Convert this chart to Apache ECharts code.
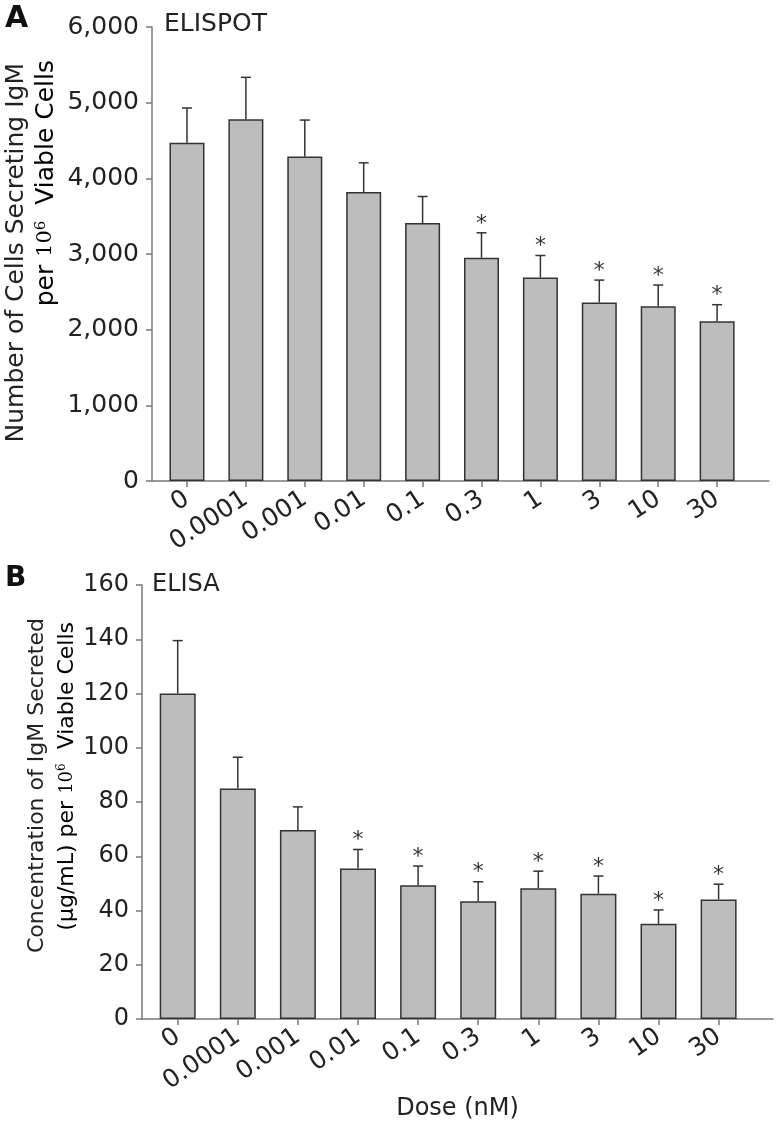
<!DOCTYPE html>
<html><head><meta charset="utf-8">
<script src="https://cdn.jsdelivr.net/npm/echarts@6/dist/echarts.min.js"></script>
<style>html,body{margin:0;padding:0;background:#fff}#c{width:777px;height:1125px}</style>
</head><body><div id="c"></div>
<script>
// ---- data ----
const doses = ['0','0.0001','0.001','0.01','0.1','0.3','1','3','10','30'];
const elispotMean = [4470, 4780, 4290, 3820, 3410, 2950, 2690, 2360, 2310, 2110];
const elispotErr  = [460, 555, 480, 385, 350, 330, 290, 295, 280, 220];
const elispotSig  = [0, 0, 0, 0, 0, 1, 1, 1, 1, 1];
const elisaMean = [120, 85, 69.7, 55.5, 49.3, 43.4, 48.2, 46.2, 35.1, 44.1];
const elisaErr  = [19.5, 11.5, 8.5, 7, 7.1, 7.2, 6.3, 6.5, 5.1, 5.6];
const elisaSig  = [0, 0, 0, 1, 1, 1, 1, 1, 1, 1];
const elispotTicks = [0, 1000, 2000, 3000, 4000, 5000, 6000];
const elisaTicks = [0, 20, 40, 60, 80, 100, 120, 140, 160];

const FONT = 'DejaVu Sans';
const AX = '#7a7a7a';
const idx = doses.map((d, i) => i);

function errRender(fs) {
  return function (params, api) {
    const x = api.value(0), m = api.value(1), e = api.value(2);
    const p0 = api.coord([x, m]), p1 = api.coord([x, m + e]);
    const ch = [
      {type: 'line', shape: {x1: p0[0], y1: p0[1], x2: p1[0], y2: p1[1]}, style: {stroke: '#333', lineWidth: 1.5}},
      {type: 'line', shape: {x1: p1[0] - 5, y1: p1[1], x2: p1[0] + 5, y2: p1[1]}, style: {stroke: '#333', lineWidth: 1.5}}
    ];
    if (api.value(3)) {
      ch.push({type: 'text', x: p1[0], y: p1[1] + 2, style: {text: '*', fontSize: fs, fontFamily: FONT, fill: '#333', align: 'center', verticalAlign: 'bottom'}});
    }
    return {type: 'group', children: ch};
  };
}

function xAxisCfg(gi, min, max, fs, rot, margin, name) {
  return {
    type: 'value', gridIndex: gi, min: min, max: max,
    splitLine: {show: false},
    axisLine: {show: true, onZero: false, lineStyle: {color: AX, width: 1.5}},
    axisTick: {show: true, length: 6, lineStyle: {color: AX, width: 1.5}, customValues: idx},
    axisLabel: {show: true, customValues: idx, rotate: rot, margin: margin, fontSize: fs, fontFamily: FONT, color: '#222',
      formatter: v => doses[Math.round(v)]},
    name: name || '', nameLocation: 'middle', nameGap: 78,
    nameTextStyle: {fontSize: 24, fontFamily: FONT, color: '#222'}
  };
}
function yAxisCfg(gi, ticks, fs) {
  return {
    type: 'value', gridIndex: gi, min: ticks[0], max: ticks[ticks.length - 1], interval: ticks[1] - ticks[0],
    splitLine: {show: false},
    axisLine: {show: true, onZero: false, lineStyle: {color: AX, width: 1.5}},
    axisTick: {show: true, length: 6, lineStyle: {color: AX, width: 1.5}},
    axisLabel: {margin: 13, fontSize: fs, fontFamily: FONT, color: '#222',
      formatter: v => v.toLocaleString('en-US')}
  };
}

const rich = (fs) => ({
  n: {fontSize: fs, fontFamily: FONT, color: '#222'},
  m: {fontSize: fs - 4, fontFamily: 'DejaVu Serif', color: '#222'},
  s: {fontSize: fs - 10, fontFamily: 'DejaVu Serif', color: '#222', verticalAlign: 'top'}
});

const chart = echarts.init(document.getElementById('c'), null, {renderer: 'canvas'});
chart.setOption({
  animation: false,
  backgroundColor: '#fff',
  grid: [
    {left: 152, top: 27, width: 617, height: 454},
    {left: 142, top: 585, width: 631, height: 434}
  ],
  xAxis: [
    xAxisCfg(0, -0.594, 9.881, 25, 33, 16),
    xAxisCfg(1, -0.594, 9.905, 25, 35, 15, 'Dose (nM)')
  ],
  yAxis: [
    yAxisCfg(0, elispotTicks, 25),
    yAxisCfg(1, elisaTicks, 24)
  ],
  graphic: [
    {type: 'text', left: 5, top: 4, style: {text: 'A', font: 'bold 30px "DejaVu Sans"', fill: '#111'}},
    {type: 'text', left: 164, top: 12, style: {text: 'ELISPOT', font: '25px "DejaVu Sans"', fill: '#222'}},
    {type: 'text', left: 5, top: 565, style: {text: 'B', font: 'bold 28px "DejaVu Sans"', fill: '#111'}},
    {type: 'text', left: 152, top: 573, style: {text: 'ELISA', font: '24px "DejaVu Sans"', fill: '#222'}},
    {type: 'text', x: 16, y: 63, rotation: Math.PI / 2,
      style: {text: 'Number of Cells Secreting IgM', fontSize: 25, fontFamily: FONT, fill: '#222', align: 'right', verticalAlign: 'middle'}},
    {type: 'text', x: 46, y: 60, rotation: Math.PI / 2,
      style: {text: '{n|per }{m|10}{s|6}{n|  Viable Cells}', rich: rich(25), align: 'right', verticalAlign: 'middle'}},
    {type: 'text', x: 37, y: 618, rotation: Math.PI / 2,
      style: {text: 'Concentration of IgM Secreted', fontSize: 22, fontFamily: FONT, fill: '#222', align: 'right', verticalAlign: 'middle'}},
    {type: 'text', x: 67, y: 622, rotation: Math.PI / 2,
      style: {text: '{n|(µg/mL) per }{m|10}{s|6}{n|  Viable Cells}', rich: rich(22), align: 'right', verticalAlign: 'middle'}}
  ],
  series: [
    {type: 'bar', xAxisIndex: 0, yAxisIndex: 0, barWidth: 35,
      data: elispotMean.map((v, i) => [i, v]),
      itemStyle: {color: '#bdbdbd', borderColor: '#333', borderWidth: 1.5}},
    {type: 'custom', xAxisIndex: 0, yAxisIndex: 0, renderItem: errRender(22), z: 3,
      data: elispotMean.map((v, i) => [i, v, elispotErr[i], elispotSig[i]])},
    {type: 'bar', xAxisIndex: 1, yAxisIndex: 1, barWidth: 36,
      data: elisaMean.map((v, i) => [i, v]),
      itemStyle: {color: '#bdbdbd', borderColor: '#333', borderWidth: 1.5}},
    {type: 'custom', xAxisIndex: 1, yAxisIndex: 1, renderItem: errRender(22), z: 3,
      data: elisaMean.map((v, i) => [i, v, elisaErr[i], elisaSig[i]])}
  ]
});
</script>
</body></html>
